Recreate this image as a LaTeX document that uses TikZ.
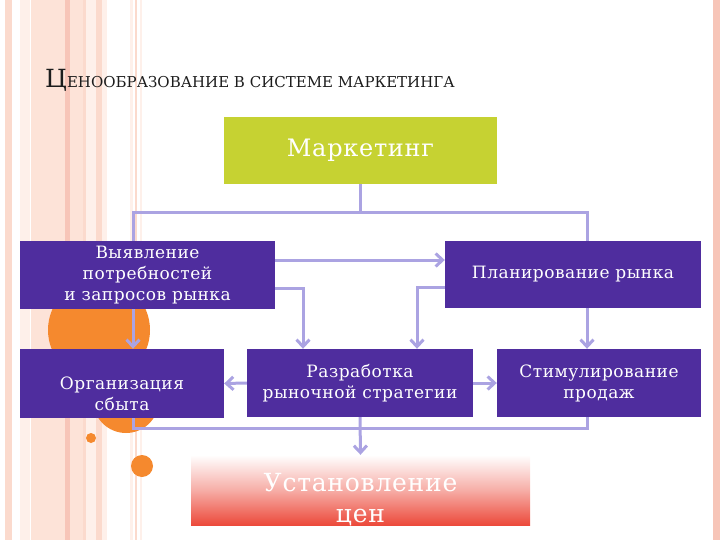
\documentclass[tikz,border=0pt]{standalone}
\usepackage{fontspec}
\setmainfont{DejaVu Serif}
\newfontfamily\boxfont[LetterSpace=3]{DejaVu Serif}
\usetikzlibrary{arrows.meta,positioning}
\definecolor{plum}{HTML}{4F2D9E}
\definecolor{mktg}{HTML}{C6D232}
\definecolor{lilac}{HTML}{ABA3E2}
\definecolor{flame}{HTML}{F5892E}
\definecolor{pricered}{HTML}{EC4A3B}
\definecolor{blush}{HTML}{FBDACD}
\definecolor{peach}{HTML}{FDE3D8}
\definecolor{rose}{HTML}{F7C5B8}
\definecolor{mist}{HTML}{FEF0EA}
\definecolor{ink}{HTML}{1C1C1C}

\begin{document}
\begin{tikzpicture}[x=1pt,y=-1pt,
    block/.style={fill=plum, text=white, inner sep=0pt, align=center, font=\boxfont\fontsize{17}{21}\selectfont},
    link/.style={draw=lilac, line width=3pt},
    arr/.style={link, -{Straight Barb[length=7pt,width=13pt]}}]
  \useasboundingbox (0,0) rectangle (720,540);
  % side stripes
  \fill[blush] (5,0) rectangle (12,540);
  \fill[mist] (20,0) rectangle (30,540);
  \fill[peach] (31,0) rectangle (65,540);
  \fill[rose] (65,0) rectangle (70,540);
  \fill[peach] (70,0) rectangle (83,540);
  \fill[blush] (83,0) rectangle (86,540);
  \fill[mist] (86,0) rectangle (96,540);
  \fill[blush] (96,0) rectangle (102,540);
  \fill[mist] (102,0) rectangle (107,540);
  \fill[mist] (130,0) rectangle (133,540);
  \fill[blush] (135,0) rectangle (137,540);
  \fill[mist] (140,0) rectangle (142,540);
  \fill[rose] (713,0) rectangle (720,540);
  % orange dots
  \fill[flame] (99,330) circle (51pt);
  \fill[flame] (126,400) circle (33pt);
  \fill[flame] (91,438) circle (5pt);
  \fill[flame] (142,466) circle (11pt);

  \node[anchor=base west, inner sep=0pt, text=ink] (title) at (45,88)
    {{\fontsize{25}{25}\selectfont Ц}\fontsize{15}{15}\selectfont ЕНООБРАЗОВАНИЕ В СИСТЕМЕ МАРКЕТИНГА};

  \coordinate (lx) at (133,0);
  \coordinate (rx) at (587,0);
  \coordinate (hub) at (360,213);

  % links under the boxes
  \draw[link] (360,184) -- (hub);
  \draw[link] (lx |- 0,241) |- (hub) -| (rx |- 0,241);
  \draw[link] (lx |- 0,418) |- (360,428) -| (rx |- 0,417);

  \node[fill=mktg, text=white, minimum width=273pt, minimum height=67pt, inner sep=0pt,
        font=\boxfont\fontsize{24}{24}\selectfont] (mkt) at (360.5,150.5) {Маркетинг};
  \node[block, minimum width=255pt, minimum height=68pt] (need) at (147.5,275)
    {Выявление\\ потребностей\\ и запросов рынка};
  \node[block, minimum width=256pt, minimum height=67pt] (plan) at (573,274.5)
    {Планирование рынка};
  \node[block, minimum width=204pt, minimum height=69pt,
        label={[block, yshift=-10pt]center:{Организация\\ сбыта}}] (org) at (122,383.5) {};
  \node[block, minimum width=226pt, minimum height=68pt] (strat) at (360,383)
    {Разработка\\ рыночной стратегии};
  \node[block, minimum width=204pt, minimum height=68pt] (stim) at (599,383)
    {Стимулирование\\ продаж};
  \node[top color=white, bottom color=pricered, middle color=pricered!45,
        minimum width=339pt, minimum height=70pt, inner sep=0pt,
        label={[text=white, align=center, yshift=-10pt, font=\boxfont\fontsize{25}{31}\selectfont]center:{Установление\\ цен}}]
        (price) at (360.5,490) {};

  \draw[arr] ([yshift=15pt]need.east) -- ([yshift=15pt]need.east -| plan.west);
  \draw[arr] ([yshift=-13pt]need.east) -| (strat.north -| 303,0);
  \draw[arr] ([yshift=-13pt]plan.west) -| (strat.north -| 417,0);
  \draw[arr] (need.south -| lx) -- (org.north -| lx);
  \draw[arr] (plan.south -| rx) -- (stim.north -| rx);
  \draw[arr] (strat.west) -- (org.east);
  \draw[arr] (strat.east) -- (stim.west);
  \draw[arr] (strat.south) -- (price.north);
\end{tikzpicture}
\end{document}
